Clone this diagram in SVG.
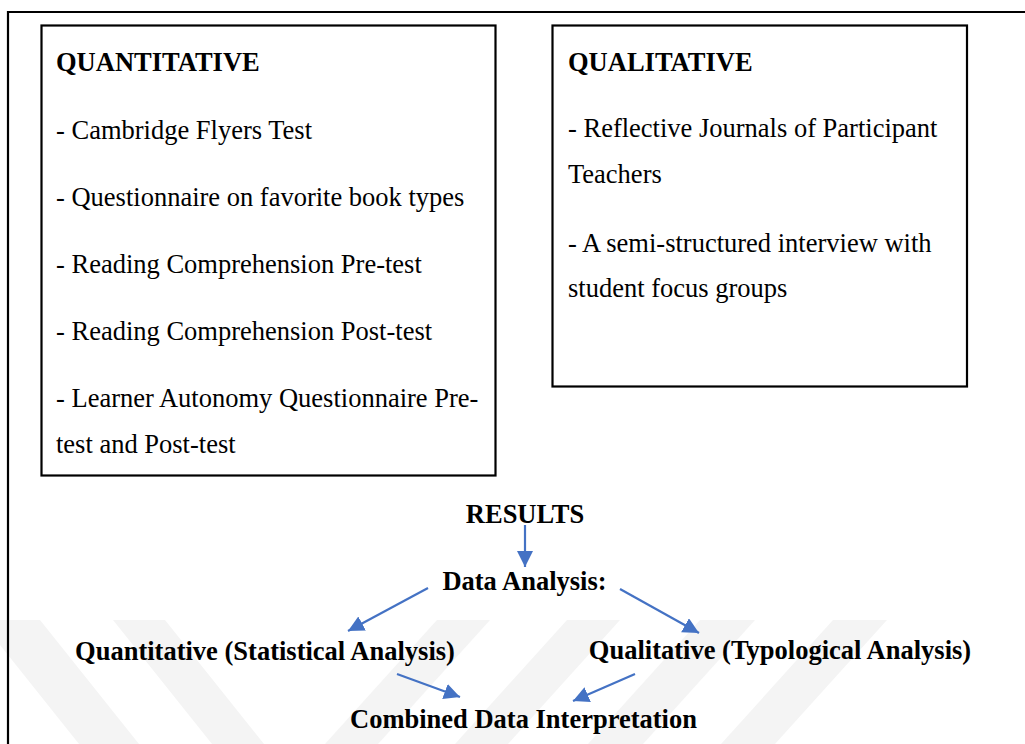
<svg xmlns="http://www.w3.org/2000/svg" width="1025" height="744" viewBox="0 0 1025 744">
<style>
.box{fill:none;stroke:#000;stroke-width:2.2}
.t{font-family:"Liberation Serif","Times New Roman",serif;font-size:26.5px;fill:#000}
.b{font-weight:bold}
.c{text-anchor:middle}
.wm{fill:#f4f4f4}
.arr{stroke:#4472C4;stroke-width:2.2;fill:none;marker-end:url(#ah)}
</style>
<defs>
<marker id="ah" markerUnits="userSpaceOnUse" markerWidth="18" markerHeight="18" refX="16" refY="8" orient="auto">
<path d="M0,0 L16,8 L0,16 z" fill="#4472C4"/>
</marker>
</defs>
<rect width="1025" height="744" fill="#fff"/>
<g id="watermark">
<polygon class="wm" points="-20,620 40,620 139,744 79,744"/>
<polygon class="wm" points="113,620 165,620 264,744 212,744"/>
<polygon class="wm" points="437,620 490,620 378,744 325,744"/>
<polygon class="wm" points="567,620 620,620 508,744 455,744"/>
<polygon class="wm" points="700,620 755,620 643,744 588,744"/>
<polygon class="wm" points="833,620 887,620 775,744 721,744"/>
</g>
<g id="frame">
<path d="M8,744 L8,12 L1025,12" fill="none" stroke="#000" stroke-width="2.2"/>
</g>
<g id="quantitative">
<rect class="box" x="41.5" y="25.5" width="454" height="450"/>
<text class="t b" x="56" y="71">QUANTITATIVE</text>
<text class="t" x="56" y="139">- Cambridge Flyers Test</text>
<text class="t" x="56" y="206">- Questionnaire on favorite book types</text>
<text class="t" x="56" y="273">- Reading Comprehension Pre-test</text>
<text class="t" x="56" y="340">- Reading Comprehension Post-test</text>
<text class="t" x="56" y="407">- Learner Autonomy Questionnaire Pre-</text>
<text class="t" x="56" y="453">test and Post-test</text>
</g>
<g id="qualitative">
<rect class="box" x="552.5" y="25.5" width="414.5" height="361"/>
<text class="t b" x="568" y="71">QUALITATIVE</text>
<text class="t" x="568" y="137">- Reflective Journals of Participant</text>
<text class="t" x="568" y="183">Teachers</text>
<text class="t" x="568" y="252">- A semi-structured interview with</text>
<text class="t" x="568" y="297">student focus groups</text>
</g>
<g id="results"><text class="t b c" x="525" y="523">RESULTS</text></g>
<g id="data-analysis"><text class="t b c" x="524.5" y="590">Data Analysis:</text></g>
<g id="quant-analysis"><text class="t b c" x="265" y="660">Quantitative (Statistical Analysis)</text></g>
<g id="qual-analysis"><text class="t b c" x="780" y="659">Qualitative (Typological Analysis)</text></g>
<g id="combined"><text class="t b c" x="523.5" y="728">Combined Data Interpretation</text></g>
<g id="connectors">
<line class="arr" x1="525" y1="525" x2="525" y2="567"/>
<line class="arr" x1="428" y1="588" x2="348" y2="631"/>
<line class="arr" x1="620" y1="589" x2="699" y2="633"/>
<line class="arr" x1="397" y1="674" x2="460" y2="697"/>
<line class="arr" x1="635" y1="674" x2="573" y2="701"/>
</g>
</svg>
